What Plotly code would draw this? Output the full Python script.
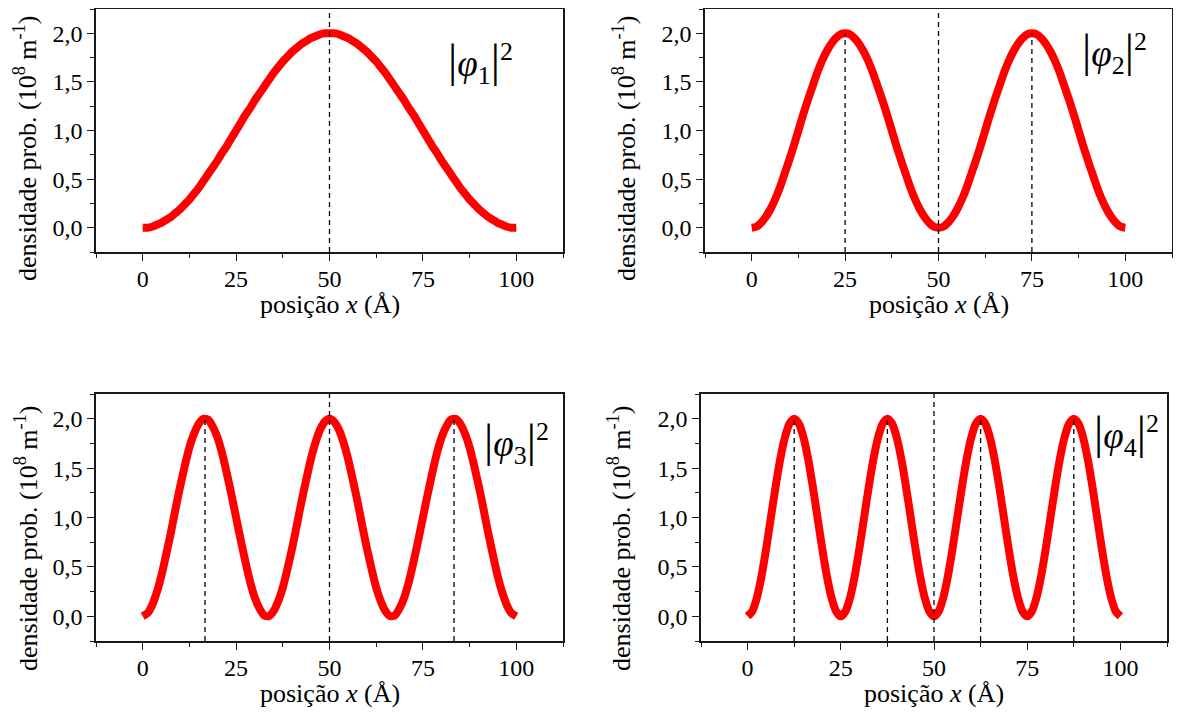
import plotly.graph_objects as go

# ---- data ----
pos_x = [0, 1.25, 2.5, 3.75, 5, 6.25, 7.5, 8.75, 10, 11.25, 12.5, 13.75, 15, 16.25, 17.5, 18.75, 20, 21.25, 22.5, 23.75,
         25, 26.25, 27.5, 28.75, 30, 31.25, 32.5, 33.75, 35, 36.25, 37.5, 38.75, 40, 41.25, 42.5, 43.75, 45, 46.25, 47.5, 48.75,
         50, 51.25, 52.5, 53.75, 55, 56.25, 57.5, 58.75, 60, 61.25, 62.5, 63.75, 65, 66.25, 67.5, 68.75, 70, 71.25, 72.5, 73.75,
         75, 76.25, 77.5, 78.75, 80, 81.25, 82.5, 83.75, 85, 86.25, 87.5, 88.75, 90, 91.25, 92.5, 93.75, 95, 96.25, 97.5, 98.75,
         100]

dens_1 = [0, 0.00, 0.01, 0.03, 0.05, 0.08, 0.11, 0.15, 0.19, 0.24, 0.29, 0.35, 0.41, 0.48, 0.55, 0.62, 0.69, 0.77, 0.84, 0.92,
          1.00, 1.08, 1.16, 1.23, 1.31, 1.38, 1.45, 1.52, 1.59, 1.65, 1.71, 1.76, 1.81, 1.85, 1.89, 1.92, 1.95, 1.97, 1.99, 2.00,
          2.00, 2.00, 1.99, 1.97, 1.95, 1.92, 1.89, 1.85, 1.81, 1.76, 1.71, 1.65, 1.59, 1.52, 1.45, 1.38, 1.31, 1.23, 1.16, 1.08,
          1.00, 0.92, 0.84, 0.77, 0.69, 0.62, 0.55, 0.48, 0.41, 0.35, 0.29, 0.24, 0.19, 0.15, 0.11, 0.08, 0.05, 0.03, 0.01, 0.00,
          0]
dens_2 = [0, 0.01, 0.05, 0.11, 0.19, 0.29, 0.41, 0.55, 0.69, 0.84, 1.00, 1.16, 1.31, 1.45, 1.59, 1.71, 1.81, 1.89, 1.95, 1.99,
          2.00, 1.99, 1.95, 1.89, 1.81, 1.71, 1.59, 1.45, 1.31, 1.16, 1.00, 0.84, 0.69, 0.55, 0.41, 0.29, 0.19, 0.11, 0.05, 0.01,
          0, 0.01, 0.05, 0.11, 0.19, 0.29, 0.41, 0.55, 0.69, 0.84, 1.00, 1.16, 1.31, 1.45, 1.59, 1.71, 1.81, 1.89, 1.95, 1.99,
          2.00, 1.99, 1.95, 1.89, 1.81, 1.71, 1.59, 1.45, 1.31, 1.16, 1.00, 0.84, 0.69, 0.55, 0.41, 0.29, 0.19, 0.11, 0.05, 0.01,
          0]
dens_3 = [0, 0.03, 0.11, 0.24, 0.41, 0.62, 0.84, 1.08, 1.31, 1.52, 1.71, 1.85, 1.95, 2.00, 1.99, 1.92, 1.81, 1.65, 1.45, 1.23,
          1.00, 0.77, 0.55, 0.35, 0.19, 0.08, 0.01, 0.00, 0.05, 0.15, 0.29, 0.48, 0.69, 0.92, 1.16, 1.38, 1.59, 1.76, 1.89, 1.97,
          2.00, 1.97, 1.89, 1.76, 1.59, 1.38, 1.16, 0.92, 0.69, 0.48, 0.29, 0.15, 0.05, 0.00, 0.01, 0.08, 0.19, 0.35, 0.55, 0.77,
          1.00, 1.23, 1.45, 1.65, 1.81, 1.92, 1.99, 2.00, 1.95, 1.85, 1.71, 1.52, 1.31, 1.08, 0.84, 0.62, 0.41, 0.24, 0.11, 0.03,
          0]
dens_4 = [0, 0.05, 0.19, 0.41, 0.69, 1.00, 1.31, 1.59, 1.81, 1.95, 2.00, 1.95, 1.81, 1.59, 1.31, 1.00, 0.69, 0.41, 0.19, 0.05,
          0, 0.05, 0.19, 0.41, 0.69, 1.00, 1.31, 1.59, 1.81, 1.95, 2.00, 1.95, 1.81, 1.59, 1.31, 1.00, 0.69, 0.41, 0.19, 0.05,
          0, 0.05, 0.19, 0.41, 0.69, 1.00, 1.31, 1.59, 1.81, 1.95, 2.00, 1.95, 1.81, 1.59, 1.31, 1.00, 0.69, 0.41, 0.19, 0.05,
          0, 0.05, 0.19, 0.41, 0.69, 1.00, 1.31, 1.59, 1.81, 1.95, 2.00, 1.95, 1.81, 1.59, 1.31, 1.00, 0.69, 0.41, 0.19, 0.05,
          0]

peak_x_1 = [50]
peak_x_2 = [25, 75]
peak_x_3 = [16.67, 83.33]
peak_x_4 = [12.5, 37.5, 62.5, 87.5]
center_x = 50
peak_y = 2.0

x_ticks = [0, 25, 50, 75, 100]
y_ticks = [0.0, 0.5, 1.0, 1.5, 2.0]
x_range = [-12.5, 112.5]
y_range = [-0.25, 2.25]

BAR = "<span style='font-size:46px'>|</span>"
labels = [BAR + "<i>φ</i><sub>1</sub>" + BAR + "<sup>2</sup>", BAR + "<i>φ</i><sub>2</sub>" + BAR + "<sup>2</sup>",
          BAR + "<i>φ</i><sub>3</sub>" + BAR + "<sup>2</sup>", BAR + "<i>φ</i><sub>4</sub>" + BAR + "<sup>2</sup>"]
x_title = "posição <i>x</i> (Å)"
y_title = "densidade prob. (10<sup>8</sup> m<sup>-1</sup>)"

OFF = 8                      # page body margin of the html page
W, H = 1181 - 2 * OFF, 715 - 2 * OFF
# plot boxes in page pixels (left, right, top, bottom)
boxes = [(96, 563, 9, 252), (705, 1172, 9, 252), (96, 563, 394, 641), (701, 1167, 394, 641)]
label_pos = [(446, 62), (1080, 52), (482, 442), (1092, 434)]
ytitle_pos = [(26, 149), (625, 149), (26, 539), (619, 539)]
xtitle_dy = 52

dens = [dens_1, dens_2, dens_3, dens_4]
peaks = [peak_x_1, peak_x_2, peak_x_3, peak_x_4]

FONT = "Liberation Serif, Times New Roman, serif"
AX = "#1a1a1a"


def px_x(v):
    return min(1.0, max(0.0, (v - OFF) / W))


def px_y(v):
    return min(1.0, max(0.0, 1 - (v - OFF) / H))


fig = go.Figure()
layout = {}
annotations = []
for i in range(4):
    sfx = "" if i == 0 else str(i + 1)
    xa, ya = "x" + sfx, "y" + sfx
    fig.add_trace(go.Scatter(x=pos_x, y=dens[i], mode="lines", xaxis=xa, yaxis=ya,
                             line=dict(color="#ff0000", width=8, shape="spline", smoothing=0.6),
                             hoverinfo="skip", showlegend=False))
    for px in peaks[i]:
        if px == center_x:
            continue
        fig.add_trace(go.Scatter(x=[px, px], y=[y_range[0], peak_y], mode="lines", xaxis=xa, yaxis=ya,
                                 line=dict(color="black", width=1.3, dash="5px,4px"),
                                 hoverinfo="skip", showlegend=False))
    fig.add_trace(go.Scatter(x=[center_x, center_x], y=y_range, mode="lines", xaxis=xa, yaxis=ya,
                             line=dict(color="black", width=1.3, dash="5px,4px"),
                             hoverinfo="skip", showlegend=False))
    l, r, t, b = boxes[i]
    layout["xaxis" + sfx] = dict(
        domain=[px_x(l), px_x(r)], anchor=ya, range=x_range, tickvals=x_ticks,
        ticks="outside", ticklen=7, tickwidth=1.3, tickcolor=AX, ticklabelstandoff=-3,
        showline=True, linecolor=AX, linewidth=1.5, mirror=True, showgrid=False, zeroline=False,
        minor=dict(dtick=12.5, tick0=-12.5, ticks="outside", ticklen=4, tickwidth=1.2, tickcolor=AX),
        tickfont=dict(family=FONT, size=24, color="black"),
    )
    layout["yaxis" + sfx] = dict(
        domain=[px_y(b), px_y(t)], anchor=xa, range=y_range, tickvals=y_ticks, tickformat=".1f",
        ticks="outside", ticklen=7, tickwidth=1.3, tickcolor=AX,
        showline=True, linecolor=AX, linewidth=1.5, mirror=True, showgrid=False, zeroline=False,
        minor=dict(dtick=0.25, tick0=-0.25, ticks="outside", ticklen=4, tickwidth=1.2, tickcolor=AX),
        tickfont=dict(family=FONT, size=24, color="black"),
    )
    # axis titles
    annotations.append(dict(text=x_title, xref="paper", yref="paper", x=px_x((l + r) / 2), y=px_y(b + xtitle_dy),
                            xanchor="center", yanchor="middle", showarrow=False,
                            font=dict(family=FONT, size=26, color="black")))
    tx, ty = ytitle_pos[i]
    annotations.append(dict(text=y_title, xref="paper", yref="paper", x=px_x(tx), y=px_y(ty),
                            xanchor="center", yanchor="middle", showarrow=False, textangle=-90,
                            font=dict(family=FONT, size=26, color="black")))
    lx, ly = label_pos[i]
    annotations.append(dict(text=labels[i], xref="paper", yref="paper", x=px_x(lx), y=px_y(ly),
                            xanchor="left", yanchor="middle", showarrow=False,
                            font=dict(family=FONT, size=37, color="black")))

fig.update_layout(**layout)
fig.update_layout(width=W, height=H, margin=dict(l=0, r=0, t=0, b=0),
                  paper_bgcolor="white", plot_bgcolor="white", separators=",.",
                  annotations=annotations, showlegend=False)
fig.write_html("out.html")
